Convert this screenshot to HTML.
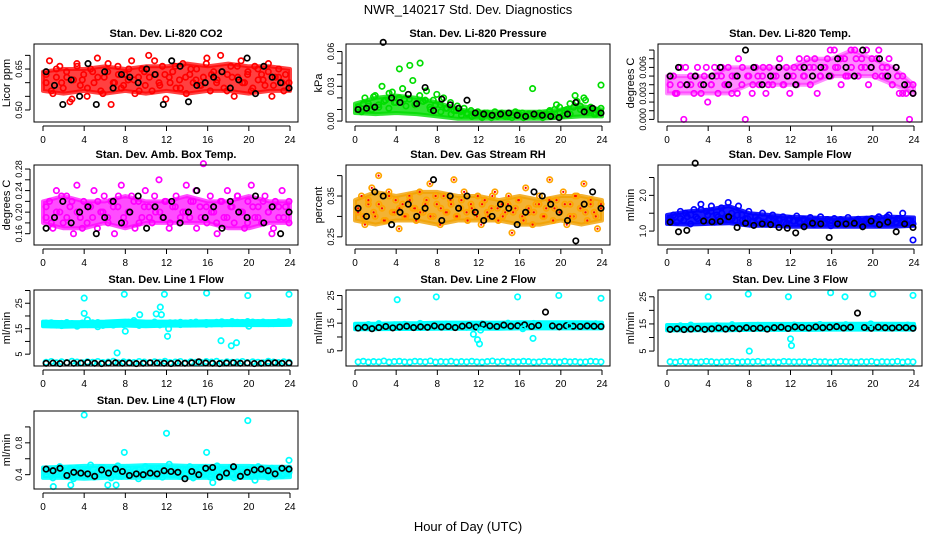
<!DOCTYPE html>
<html><head><meta charset="utf-8">
<style>
html,body{margin:0;padding:0;background:#fff;}
svg{display:block;font-family:"Liberation Sans",sans-serif;}
</style></head>
<body>
<svg id="chart" width="936" height="540" viewBox="0 0 936 540">
<text x="468" y="14" text-anchor="middle" font-size="13">NWR_140217  Std. Dev. Diagnostics</text>
<text x="468" y="531" text-anchor="middle" font-size="13">Hour of Day (UTC)</text>
</svg>
<script>
// ---------- data ----------
const hourTicks = [0,4,8,12,16,20,24];
const coreHours = [0,2,4,6,8,10,12,14,16,18,20,22,24];

const co2Red = [0.60,0.68,0.56,0.62,0.66,0.58,0.64,0.53,0.61,0.67,0.59,0.63,0.55,0.65,0.60,0.69,0.57,0.62,0.64,0.52,0.60,0.66,0.58,0.63,0.61,0.68,0.56,0.62,0.65,0.59,0.70,0.57,0.63,0.60,0.66,0.54,0.62,0.64,0.58,0.61,0.67,0.56,0.63,0.60,0.65,0.59,0.62,0.69,0.57,0.64,0.61,0.70,0.58,0.63,0.66,0.55,0.62,0.68,0.60,0.64,0.57,0.66,0.61,0.63,0.59,0.67,0.55,0.62,0.65,0.60,0.63,0.58];
const co2Red2 = [0.63,0.57,0.65,0.60,0.62,0.54,0.66,0.61,0.58,0.64,0.62,0.56,0.67,0.60,0.63,0.59,0.65,0.61,0.57,0.64,0.62,0.68,0.59,0.63,0.60,0.66,0.58,0.62,0.65,0.61,0.59,0.67,0.63,0.60,0.64,0.57,0.62,0.66,0.60,0.63,0.58,0.65,0.61,0.64,0.59,0.62,0.57,0.60];
const co2Black = [0.64,0.59,0.52,0.61,0.55,0.67,0.52,0.64,0.58,0.63,0.62,0.60,0.65,0.63,0.52,0.68,0.66,0.53,0.59,0.60,0.62,0.64,0.58,0.61,0.69,0.56,0.66,0.62,0.60,0.58];
const co2CoreLow = [0.57,0.56,0.57,0.56,0.57,0.56,0.57,0.56,0.57,0.57,0.56,0.57,0.57];
const co2CoreHigh = [0.64,0.65,0.65,0.66,0.65,0.66,0.66,0.67,0.66,0.67,0.66,0.66,0.65];

const presGreen = [0.012,0.008,0.020,0.015,0.010,0.022,0.014,0.030,0.018,0.011,0.025,0.016,0.020,0.028,0.013,0.019,0.035,0.015,0.022,0.017,0.026,0.012,0.018,0.023,0.014,0.020,0.011,0.016,0.009,0.013,0.008,0.011,0.006,0.009,0.005,0.008,0.004,0.007,0.006,0.003,0.008,0.005,0.007,0.004,0.006,0.003,0.008,0.005,0.007,0.004,0.006,0.028,0.005,0.007,0.003,0.006,0.009,0.004,0.014,0.007,0.005,0.010,0.006,0.012,0.017,0.010,0.020,0.008,0.012,0.006,0.009,0.031];
const presGreen2 = [0.010,0.015,0.013,0.021,0.012,0.017,0.024,0.016,0.045,0.019,0.048,0.014,0.050,0.018,0.010,0.014,0.008,0.011,0.006,0.009,0.005,0.007,0.004,0.006,0.003,0.007,0.005,0.004,0.006,0.004,0.005,0.007,0.003,0.006,0.004,0.005,0.006,0.008,0.010,0.012,0.009,0.015,0.022,0.013,0.018,0.009,0.006,0.011];
const presBlack = [0.010,0.011,0.012,0.068,0.020,0.016,0.023,0.015,0.029,0.009,0.019,0.014,0.011,0.018,0.007,0.006,0.005,0.006,0.007,0.005,0.004,0.006,0.005,0.004,0.003,0.006,0.016,0.008,0.011,0.007];
const presCoreLow = [0.007,0.006,0.007,0.006,0.004,0.002,0.002,0.002,0.002,0.002,0.003,0.004,0.004];
const presCoreHigh = [0.015,0.020,0.022,0.020,0.016,0.010,0.008,0.008,0.008,0.008,0.010,0.013,0.010];

const tempMag = [0.004,0.005,0.003,0.006,0.000,0.004,0.005,0.003,0.006,0.004,0.005,0.002,0.004,0.006,0.003,0.005,0.004,0.006,0.003,0.005,0.007,0.004,0.000,0.005,0.003,0.006,0.004,0.005,0.003,0.006,0.004,0.005,0.007,0.004,0.006,0.003,0.005,0.004,0.006,0.005,0.007,0.004,0.006,0.003,0.005,0.006,0.007,0.005,0.008,0.006,0.004,0.007,0.005,0.006,0.008,0.005,0.007,0.006,0.004,0.007,0.005,0.008,0.006,0.005,0.007,0.004,0.006,0.003,0.005,0.003,0.000,0.004];
const tempMag2 = [0.005,0.003,0.004,0.006,0.004,0.005,0.003,0.006,0.004,0.005,0.006,0.004,0.005,0.003,0.006,0.005,0.004,0.005,0.006,0.004,0.005,0.006,0.004,0.005,0.006,0.007,0.005,0.006,0.007,0.005,0.006,0.008,0.006,0.007,0.005,0.008,0.007,0.006,0.008,0.006,0.007,0.005,0.006,0.004,0.005,0.003,0.004,0.003];
const tempBlack = [0.005,0.006,0.004,0.005,0.004,0.005,0.006,0.004,0.005,0.008,0.006,0.004,0.005,0.006,0.005,0.004,0.006,0.005,0.006,0.005,0.007,0.006,0.005,0.008,0.006,0.007,0.005,0.006,0.004,0.003];
const tempCoreLow = [0.003,0.003,0.003,0.003,0.004,0.004,0.004,0.004,0.005,0.005,0.005,0.004,0.003];
const tempCoreHigh = [0.005,0.005,0.005,0.006,0.006,0.006,0.006,0.007,0.007,0.008,0.007,0.006,0.004];

const boxMag = [0.19,0.22,0.17,0.24,0.20,0.18,0.23,0.21,0.16,0.25,0.19,0.22,0.18,0.21,0.24,0.17,0.20,0.23,0.19,0.22,0.16,0.21,0.25,0.18,0.20,0.23,0.17,0.22,0.19,0.24,0.21,0.18,0.20,0.26,0.19,0.22,0.17,0.21,0.23,0.18,0.20,0.25,0.19,0.22,0.17,0.21,0.29,0.18,0.23,0.20,0.16,0.22,0.19,0.24,0.21,0.18,0.23,0.20,0.17,0.22,0.25,0.19,0.21,0.18,0.23,0.20,0.16,0.22,0.19,0.24,0.21,0.18];
const boxMag2 = [0.21,0.18,0.20,0.23,0.19,0.22,0.20,0.17,0.21,0.19,0.22,0.20,0.18,0.21,0.23,0.19,0.20,0.22,0.18,0.21,0.19,0.23,0.20,0.22,0.18,0.21,0.19,0.20,0.22,0.24,0.19,0.21,0.20,0.18,0.22,0.19,0.21,0.23,0.20,0.18,0.21,0.19,0.22,0.20,0.17,0.21,0.19,0.22];
const boxBlack = [0.17,0.19,0.22,0.18,0.20,0.21,0.16,0.19,0.22,0.18,0.20,0.23,0.17,0.21,0.19,0.22,0.18,0.20,0.24,0.19,0.21,0.17,0.22,0.20,0.19,0.23,0.18,0.21,0.16,0.20];
const boxCoreLow = [0.18,0.17,0.17,0.18,0.17,0.18,0.18,0.18,0.18,0.17,0.17,0.18,0.18];
const boxCoreHigh = [0.22,0.23,0.22,0.22,0.23,0.22,0.22,0.23,0.22,0.22,0.23,0.22,0.22];

const rhOrange = [0.31,0.35,0.28,0.33,0.37,0.30,0.40,0.32,0.29,0.36,0.31,0.34,0.27,0.33,0.30,0.35,0.32,0.29,0.36,0.31,0.34,0.38,0.30,0.33,0.28,0.35,0.31,0.34,0.39,0.30,0.32,0.36,0.29,0.33,0.31,0.35,0.28,0.34,0.30,0.32,0.36,0.29,0.33,0.31,0.35,0.26,0.32,0.34,0.30,0.37,0.31,0.28,0.33,0.35,0.30,0.32,0.39,0.29,0.34,0.31,0.36,0.28,0.33,0.30,0.35,0.32,0.38,0.29,0.34,0.31,0.27,0.33];
const rhOrange2 = [0.32,0.30,0.34,0.31,0.33,0.29,0.35,0.31,0.32,0.30,0.34,0.32,0.31,0.33,0.30,0.35,0.32,0.31,0.33,0.30,0.34,0.31,0.32,0.30,0.33,0.31,0.35,0.32,0.30,0.33,0.31,0.34,0.29,0.32,0.31,0.33,0.30,0.34,0.32,0.31,0.33,0.30,0.35,0.32,0.31,0.33,0.30,0.32];
const rhBlack = [0.32,0.30,0.36,0.35,0.28,0.31,0.33,0.30,0.32,0.39,0.29,0.35,0.32,0.35,0.31,0.29,0.30,0.33,0.32,0.28,0.31,0.36,0.35,0.33,0.31,0.29,0.24,0.33,0.36,0.32];
const rhCoreLow = [0.29,0.28,0.29,0.29,0.28,0.29,0.29,0.29,0.28,0.28,0.29,0.28,0.29];
const rhCoreHigh = [0.34,0.36,0.35,0.36,0.36,0.35,0.35,0.34,0.35,0.34,0.35,0.35,0.34];

const flowBlue = [1.35,1.45,1.25,1.55,1.30,1.40,1.20,1.60,1.35,1.75,1.30,1.45,1.55,1.25,1.40,1.65,1.35,1.80,1.50,1.30,1.70,1.45,1.35,1.55,1.25,1.40,1.30,1.50,1.20,1.35,1.45,1.25,1.30,1.40,1.20,1.35,1.28,1.42,1.22,1.33,1.25,1.38,1.18,1.30,1.40,1.22,1.32,1.15,1.35,1.25,1.30,1.20,1.38,1.27,1.22,1.33,1.18,1.30,1.25,1.35,1.20,1.40,1.28,1.22,1.45,1.30,1.25,1.35,1.50,1.20,1.30,0.75];
const flowBlue2 = [1.30,1.40,1.35,1.50,1.45,1.40,1.60,1.55,1.70,1.45,1.50,1.40,1.35,1.45,1.30,1.35,1.28,1.32,1.25,1.30,1.27,1.33,1.24,1.30,1.28,1.26,1.32,1.25,1.30,1.27,1.22,1.30,1.26,1.32,1.24,1.28,1.30,1.25,1.33,1.27,1.35,1.30,1.40,1.28,1.35,1.25,1.30,1.20];
const flowBlack = [1.25,0.98,1.02,2.90,1.28,1.26,1.27,1.40,1.10,1.22,1.16,1.20,1.18,1.10,1.08,0.95,1.12,1.22,1.20,0.82,1.20,1.20,1.22,1.12,1.28,1.18,1.25,0.98,1.20,1.10];
const flowCoreLow = [1.20,1.18,1.20,1.22,1.15,1.15,1.12,1.12,1.12,1.12,1.12,1.12,1.15];
const flowCoreHigh = [1.45,1.55,1.60,1.70,1.50,1.45,1.40,1.38,1.36,1.36,1.38,1.40,1.38];

const line1Cyan = [17.2,16.5,17.0,16.2,17.4,16.8,16.0,17.1,16.6,17.3,15.8,16.9,17.2,16.4,17.0,16.7,17.5,18.2,16.3,17.1,16.8,17.6,16.5,17.0,16.9,17.3,16.6,17.1,17.4,16.8,17.0,16.7,17.2,17.5,16.9,17.3,17.8,17.1,17.4,16.9,17.6,17.2,17.5,17.0,17.3,17.7,17.2,17.4];
const line1Cyan2 = [16.8,17.3,16.4,17.1,16.6,17.0,16.5,17.2,18.5,16.9,17.4,16.3,17.0,16.8,17.3,16.6,17.1,16.9,17.2,16.7,17.0,17.4,16.8,17.1,17.3,16.9,17.5,17.2,16.8,17.6,17.1,17.4,16.9,17.2,17.7,17.3,17.0,17.5,17.2,17.8,17.1,17.4,17.6,17.3,17.0,17.5,17.2,17.8];
const line1Low = [1.8,2.1,1.6,2.0,1.7,2.2,1.9,1.6,2.0,1.8,2.1,1.7,1.9,2.2,1.6,2.0,1.8,1.7,2.1,1.9,1.6,2.0,1.8,2.2,1.7,1.9,2.1,1.6,2.0,1.8,1.7,2.1,1.9,2.2,1.6,2.0,1.8,1.9,2.1,1.7,2.0,1.8,1.6,2.2,1.9,1.7,2.0,1.8];
const line1OutHour = [4,4,7.2,7.9,8,9.4,11,11.4,11.5,11.8,12.1,12.2,15.9,17.3,18.3,18.8,19.9,20,23.9];
const line1OutVal = [27,21,5.5,28.5,14,20.5,20.8,23.5,20.5,28.5,12,15,29,10.3,8.3,9.5,28,16,28.5];
const line1Black = [1.4,1.5,1.3,1.6,1.4,1.5,1.7,1.4,1.3,1.5,1.6,1.4,1.5,1.3,1.4,1.6,1.5,1.4,1.3,1.5,1.4,1.6,2.0,1.5,1.4,1.3,1.5,1.6,1.4,1.5,1.3,1.4,1.5,1.6,1.4,1.5];
const line1CoreLow = [16.0,15.8,16.0,16.0,16.2,16.0,16.2,16.2,16.3,16.4,16.4,16.4,16.5];
const line1CoreHigh = [17.8,17.6,17.6,17.8,18.2,17.8,17.8,17.8,17.9,18.0,18.0,18.0,18.2];

const line2Cyan = [14.2,13.6,14.5,13.9,14.8,14.1,13.7,14.4,14.0,14.6,13.8,14.3,14.9,14.1,13.6,14.5,14.2,14.7,13.9,14.4,14.0,13.5,14.6,14.1,14.8,14.3,13.8,14.5,14.2,15.0,14.0,14.6,13.7,14.3,14.9,14.1,14.4,13.8,14.6,14.2,14.0,14.7,14.3,13.9,14.5,14.1,14.8,14.2];
const line2Low = [1.0,1.2,0.9,1.1,1.0,1.3,0.9,1.1,1.2,1.0,0.9,1.2,1.1,1.0,1.3,0.9,1.1,1.0,1.2,0.9,1.1,1.0,1.2,1.0,0.9,1.1,1.3,1.0,1.2,0.9,1.1,1.0,1.2,1.1,0.9,1.0,1.2,1.1,1.0,0.9,1.2,1.0,1.1,0.9,1.0,1.2,1.1,1.0];
const line2OutHour = [4.1,7.9,11.5,11.9,12.1,12.2,15.8,16.3,17.3,19.8,20.8,23.9];
const line2OutVal = [23.5,24.5,11,9,7.5,12.5,24.5,13,9.5,25,14,24];
const line2Black = [13.2,13.5,13.0,13.4,13.8,13.3,13.6,13.9,13.4,13.7,13.5,14.0,13.6,13.8,13.4,13.9,14.2,13.6,14.5,14.0,13.8,14.3,13.9,14.1,14.4,13.8,14.2,19.0,14.0,13.7,14.1,13.9,13.8,14.0,13.9,13.8];
const line2CoreLow = [12.8,12.8,12.9,12.9,13.0,13.0,13.0,13.0,13.1,13.1,13.1,13.1,13.1];
const line2CoreHigh = [14.8,14.8,15.0,15.0,15.2,15.2,15.2,15.2,15.3,15.3,15.3,15.3,15.2];

const line3Cyan = [14.0,13.5,14.3,13.8,14.6,13.9,13.6,14.2,13.8,14.4,13.7,14.1,14.7,13.9,13.5,14.3,14.0,14.5,13.8,14.2,13.9,13.4,14.4,14.0,14.6,14.1,13.7,14.3,14.0,14.8,13.9,14.4,13.6,14.1,14.7,13.9,14.2,13.7,14.4,14.0,13.9,14.5,14.1,13.8,14.3,14.0,14.6,14.1];
const line3Low = [1.1,0.9,1.2,1.0,1.1,0.9,1.0,1.2,1.1,0.9,1.0,1.1,1.2,0.9,1.0,1.1,1.0,1.2,0.9,1.1,1.0,0.9,1.2,1.1,1.0,1.0,1.1,0.9,1.2,1.0,1.1,0.9,1.0,1.2,1.1,1.0,0.9,1.1,1.0,1.2,0.9,1.1,1.0,1.0,1.2,0.9,1.1,1.0];
const line3OutHour = [4,7.9,8,11.8,12,12.1,15.9,17.3,19.8,20,23.9];
const line3OutVal = [25,26,5,25,9.5,7,26.5,25,15,26,25.5];
const line3Black = [13.0,13.2,12.9,13.1,13.3,13.0,13.2,13.5,13.1,13.4,13.2,13.6,13.3,13.5,13.1,13.6,13.8,13.3,13.9,13.7,13.5,13.9,13.6,13.8,14.0,13.5,13.8,19.0,13.7,13.4,13.8,13.6,13.5,13.7,13.6,13.4];
const line3CoreLow = [12.6,12.6,12.7,12.7,12.8,12.8,12.8,12.8,12.9,12.9,12.9,12.9,12.9];
const line3CoreHigh = [14.6,14.6,14.8,14.8,15.0,15.0,15.0,15.0,15.1,15.1,15.1,15.1,15.0];

const line4Cyan = [0.40,0.46,0.36,0.43,0.50,0.38,0.44,0.48,0.35,0.42,0.47,0.39,0.45,0.52,0.37,0.43,0.49,0.40,0.46,0.36,0.44,0.51,0.38,0.42,0.47,0.40,0.45,0.35,0.43,0.50,0.39,0.46,0.41,0.48,0.37,0.44,0.53,0.40,0.45,0.38,0.47,0.42,0.50,0.36,0.44,0.48,0.40,0.46,0.37,0.43,0.51,0.39,0.45,0.41,0.49,0.36,0.44,0.47,0.40,0.46,0.38,0.43,0.50,0.41,0.45,0.37,0.48,0.42,0.44,0.39,0.47,0.43];
const line4Cyan2 = [0.44,0.39,0.47,0.41,0.45,0.38,0.48,0.42,0.46,0.40,0.44,0.49,0.41,0.45,0.38,0.47,0.43,0.40,0.46,0.42,0.48,0.39,0.45,0.41,0.47,0.43,0.38,0.46,0.44,0.40,0.48,0.42,0.45,0.39,0.47,0.43,0.41,0.46,0.44,0.40,0.48,0.42,0.45,0.39,0.46,0.43,0.41,0.47];
const line4OutHour = [1,2.7,4,6.3,7.1,7.9,12,15.9,16.5,19.9,20.6,23.9];
const line4OutVal = [0.25,0.27,1.15,0.27,0.27,0.68,0.92,0.68,0.30,1.08,0.33,0.58];
const line4Black = [0.47,0.45,0.48,0.39,0.43,0.42,0.41,0.38,0.46,0.42,0.47,0.44,0.39,0.41,0.40,0.42,0.41,0.45,0.44,0.43,0.35,0.44,0.40,0.48,0.49,0.37,0.42,0.50,0.38,0.43,0.46,0.47,0.45,0.41,0.48,0.47];
const line4CoreLow = [0.36,0.36,0.35,0.36,0.36,0.36,0.36,0.36,0.36,0.36,0.36,0.36,0.37];
const line4CoreHigh = [0.49,0.50,0.51,0.51,0.51,0.52,0.52,0.51,0.51,0.51,0.51,0.50,0.50];

// ---------- layout ----------
const colLeft = [34, 346, 658];
const rowTop = [44, 165, 290, 411];
const rowH = [78, 80, 76, 78];
const boxW = 264;

const panels = [
 {name:'co2',title:'Stan. Dev. Li-820 CO2',ylab:'Licor ppm',col:0,row:0,ymin:0.456,ymax:0.7416,ticks:[0.50,0.55,0.60,0.65,0.70],labels:[0.50,0.65],fmt:2,
  core:[co2CoreLow,co2CoreHigh,'#ff0000',0.75],
  series:[[co2Red,'#ff0000'],[co2Red2,'#ff0000'],[co2Black,'#000000']]},
 {name:'pressure',title:'Stan. Dev. Li-820 Pressure',ylab:'kPa',col:1,row:0,ymin:-0.0008,ymax:0.0665,ticks:[0,0.01,0.02,0.03,0.04,0.05,0.06],labels:[0,0.03,0.06],fmt:2,
  core:[presCoreLow,presCoreHigh,'#00dd00',0.8],
  series:[[presGreen,'#00dd00'],[presGreen2,'#00dd00'],[presBlack,'#000000']]},
 {name:'temp',title:'Stan. Dev. Li-820 Temp.',ylab:'degrees C',col:2,row:0,ymin:-0.0003,ymax:0.0087,ticks:[0,0.001,0.002,0.003,0.004,0.005,0.006,0.007,0.008],labels:[0,0.003,0.006],fmt:3,
  core:[tempCoreLow,tempCoreHigh,'#ff00ff',0.45],
  series:[[tempMag,'#ff00ff'],[tempMag2,'#ff00ff'],[tempBlack,'#000000']]},
 {name:'box-temp',title:'Stan. Dev. Amb. Box Temp.',ylab:'degrees C',col:0,row:1,ymin:0.139,ymax:0.2875,ticks:[0.16,0.18,0.20,0.22,0.24,0.26,0.28],labels:[0.16,0.20,0.24,0.28],fmt:2,
  core:[boxCoreLow,boxCoreHigh,'#ff00ff',0.7],
  series:[[boxMag,'#ff00ff'],[boxMag2,'#ff00ff'],[boxBlack,'#000000']]},
 {name:'rh',title:'Stan. Dev. Gas Stream RH',ylab:'percent',col:1,row:1,ymin:0.23,ymax:0.426,ticks:[0.25,0.30,0.35,0.40],labels:[0.25,0.35],fmt:2,
  core:[rhCoreLow,rhCoreHigh,'#f0a000',0.8],
  series:[[rhOrange,'#ffa500',true],[rhOrange2,'#ffa500',true],[rhBlack,'#000000']]},
 {name:'sample-flow',title:'Stan. Dev. Sample Flow',ylab:'ml/min',col:2,row:1,ymin:0.61,ymax:2.85,ticks:[1.0,1.5,2.0,2.5],labels:[1.0,2.0],fmt:1,
  core:[flowCoreLow,flowCoreHigh,'#0000ff',0.9],
  series:[[flowBlue,'#0000ff'],[flowBlue2,'#0000ff'],[flowBlack,'#000000']]},
 {name:'line1',title:'Stan. Dev. Line 1 Flow',ylab:'ml/min',col:0,row:2,ymin:0.35,ymax:30.2,ticks:[5,10,15,20,25,30],labels:[5,15,25],fmt:0,
  core:[line1CoreLow,line1CoreHigh,'#00ffff',1],
  series:[[line1Cyan,'#00ffff'],[line1Cyan2,'#00ffff'],[line1Low,'#00ffff'],[line1Black,'#000000']],out:[line1OutHour,line1OutVal]},
 {name:'line2',title:'Stan. Dev. Line 2 Flow',ylab:'ml/min',col:1,row:2,ymin:-0.5,ymax:27,ticks:[5,10,15,20,25],labels:[5,15,25],fmt:0,
  core:[line2CoreLow,line2CoreHigh,'#00ffff',1],
  series:[[line2Cyan,'#00ffff'],[line2Low,'#00ffff'],[line2Black,'#000000']],out:[line2OutHour,line2OutVal]},
 {name:'line3',title:'Stan. Dev. Line 3 Flow',ylab:'ml/min',col:2,row:2,ymin:-0.5,ymax:27.5,ticks:[5,10,15,20,25],labels:[5,15,25],fmt:0,
  core:[line3CoreLow,line3CoreHigh,'#00ffff',1],
  series:[[line3Cyan,'#00ffff'],[line3Low,'#00ffff'],[line3Black,'#000000']],out:[line3OutHour,line3OutVal]},
 {name:'line4',title:'Stan. Dev. Line 4 (LT) Flow',ylab:'ml/min',col:0,row:3,ymin:0.22,ymax:1.2,ticks:[0.4,0.6,0.8,1.0],labels:[0.4,0.8],fmt:1,
  core:[line4CoreLow,line4CoreHigh,'#00ffff',0.9],
  series:[[line4Cyan,'#00ffff'],[line4Cyan2,'#00ffff'],[line4Black,'#000000']],out:[line4OutHour,line4OutVal]}
];

const NS = 'http://www.w3.org/2000/svg';
const svg = document.getElementById('chart');
function mk(tag, attrs, parent){
  const e = document.createElementNS(NS, tag);
  for (const k in attrs) e.setAttribute(k, attrs[k]);
  parent.appendChild(e);
  return e;
}

panels.forEach(p => {
  const L = colLeft[p.col], T = rowTop[p.row], H = rowH[p.row];
  const xScale = h => L + 9 + h * (247 / 24);
  const yScale = v => T + H - (v - p.ymin) / (p.ymax - p.ymin) * H;
  const g = mk('g', {}, svg);
  
  

  const title = mk('text', {x: L + boxW / 2, y: T - 7, 'text-anchor': 'middle', 'font-size': 11, 'font-weight': 'bold'}, g);
  title.textContent = p.title;
  
  

  const yl = mk('text', {x: 0, y: 0, 'text-anchor': 'middle', 'font-size': 11, transform: `translate(${L - 24},${T + H / 2}) rotate(-90)`}, g);
  yl.textContent = p.ylab;
  
  

  // dense core of the point cloud
  if (p.core) {
    const lo = p.core[0], hi = p.core[1];
    let d = '';
    coreHours.forEach((h, i) => { d += (i ? 'L' : 'M') + xScale(h).toFixed(1) + ',' + yScale(hi[i]).toFixed(1); });
    for (let i = coreHours.length - 1; i >= 0; i--) d += 'L' + xScale(coreHours[i]).toFixed(1) + ',' + yScale(lo[i]).toFixed(1);
    d += 'Z';
    const c = mk('path', {d: d, fill: p.core[2], 'fill-opacity': p.core[3], stroke: p.core[2], 'stroke-opacity': p.core[3], 'stroke-width': 4, 'stroke-linejoin': 'round'}, g);
    
    
  }

  const pts = mk('g', {fill: 'none', 'stroke-width': 1.7}, g);
  
  
  p.series.forEach(s => {
    const vals = s[0], col = s[1], n = vals.length;
    vals.forEach((v, i) => {
      const h = 0.3 + i * (23.6 / (n - 1));
      const c = mk('circle', {cx: xScale(h).toFixed(1), cy: yScale(v).toFixed(1), r: 2.7, stroke: col}, pts);
      
      
      if (s[2]) {
        const d = mk('circle', {cx: xScale(h).toFixed(1), cy: yScale(v).toFixed(1), r: 1.1, fill: '#ff0000', stroke: 'none'}, pts);
        
        
      }
    });
  });
  if (p.out) {
    p.out[0].forEach((h, i) => {
      const c = mk('circle', {cx: xScale(h).toFixed(1), cy: yScale(p.out[1][i]).toFixed(1), r: 2.7, stroke: '#00ffff'}, pts);
      
      
    });
  }

  const box = mk('rect', {x: L, y: T, width: boxW, height: H, fill: 'none', stroke: '#000', 'stroke-width': 1}, g);
  
  

  const xa = mk('g', {}, g);
  
  
  mk('line', {x1: xScale(0), x2: xScale(24), y1: T + H + 4, y2: T + H + 4, stroke: '#000'}, xa);
  hourTicks.forEach(h => {
    mk('line', {x1: xScale(h), x2: xScale(h), y1: T + H + 4, y2: T + H + 9, stroke: '#000'}, xa);
    const t = mk('text', {x: xScale(h), y: T + H + 21, 'text-anchor': 'middle', 'font-size': 10}, xa);
    t.textContent = h;
    
    
  });

  const ya = mk('g', {}, g);
  
  
  const tk = p.ticks;
  mk('line', {x1: L - 4, x2: L - 4, y1: yScale(tk[0]), y2: yScale(tk[tk.length - 1]), stroke: '#000'}, ya);
  tk.forEach(v => {
    mk('line', {x1: L - 9, x2: L - 4, y1: yScale(v), y2: yScale(v), stroke: '#000'}, ya);
  });
  p.labels.forEach(v => {
    const y = yScale(v);
    const t = mk('text', {x: 0, y: 0, 'text-anchor': 'middle', 'font-size': 9, transform: `translate(${L - 12},${y}) rotate(-90)`}, ya);
    t.textContent = v.toFixed(p.fmt);
    
    
  });
});
</script>
</body></html>
